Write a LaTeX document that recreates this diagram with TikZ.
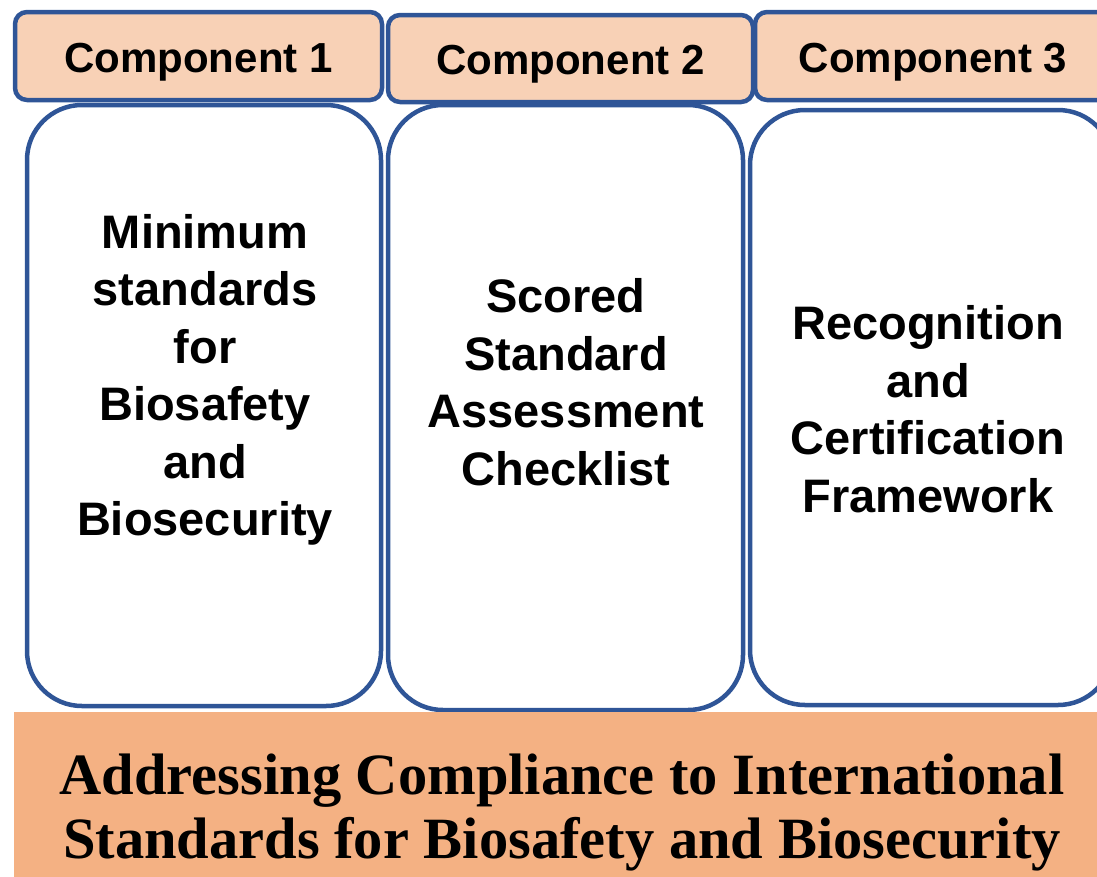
\documentclass[tikz,border=0pt]{standalone}
\usepackage{fontspec}
\setmainfont{Liberation Sans}
\newfontfamily\bannerfont{Liberation Serif}
\usepackage{tikz}
\definecolor{boxblue}{HTML}{2F5597}
\definecolor{headfill}{HTML}{F8D1B6}
\definecolor{bannerfill}{HTML}{F4B183}
\tikzset{
	headbox/.style={draw=boxblue, line width=4.5pt, fill=headfill, rounded corners=12pt, inner sep=0pt, text height=40pt, text depth=8pt, font=\bfseries\fontsize{42}{50}\selectfont},
	tallbox/.style={draw=boxblue, line width=4.5pt, fill=white, rounded corners=55pt, inner sep=0pt},
	bodytext/.style={align=center, inner sep=0pt, font=\bfseries\fontsize{47}{57.5}\selectfont},
	bannerbox/.style={fill=bannerfill, inner sep=0pt},
	bannertext/.style={align=center, inner sep=0pt, font=\bannerfont\bfseries\fontsize{58.5}{64}\selectfont}
}

\begin{document}
\begin{tikzpicture}[x=1pt, y=-1pt]
		%%%%% START %%%%%
		\useasboundingbox (0, 0) rectangle (1097, 876);
		\clip (0, 0) rectangle (1097, 876);
		
		\node[tallbox, minimum width=354pt, minimum height=601pt] (b1) at (204, 405.5) {};
		\node[tallbox, minimum width=355pt, minimum height=605pt] (b2) at (565.5, 407.5) {};
		\node[tallbox, minimum width=363pt, minimum height=595pt] (b3) at (931.5, 407.5) {};
		
		\node[headbox, minimum width=367pt, minimum height=88pt] (h1) at (198.5, 56) {Component 1};
		\node[headbox, minimum width=365pt, minimum height=87pt] (h2) at (570.5, 58.5) {Component 2};
		\node[headbox, minimum width=356pt, minimum height=88pt] (h3) at (933, 56) {Component 3};
		
		\node[bodytext] (t1) at (205, 380) {Minimum\\standards\\for\\Biosafety\\and\\Biosecurity};
		\node[bodytext] (t2) at (566, 382) {Scored\\Standard\\Assessment\\Checklist};
		\node[bodytext] (t3) at (928, 409) {Recognition\\and\\Certification\\Framework};
		
		\node[bannerbox, minimum width=1096pt, minimum height=170pt] (banner) at (562, 797) {};
		\node[bannertext] (bt) at (562, 813) {Addressing Compliance to International\\Standards for Biosafety and Biosecurity};
		%%%%% END %%%%%
	\end{tikzpicture}
\end{document}
